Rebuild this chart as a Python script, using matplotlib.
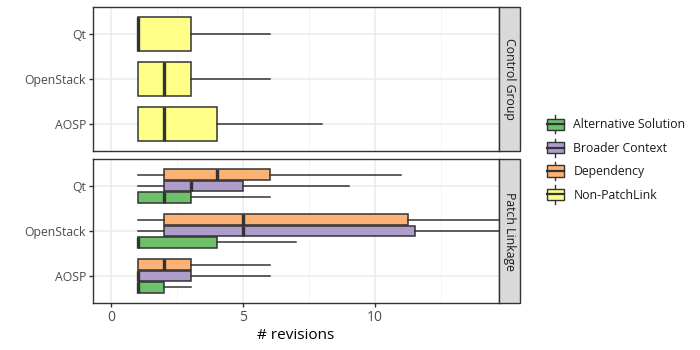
import matplotlib
matplotlib.use("Agg")
import matplotlib.pyplot as plt
from matplotlib.patches import Rectangle
from matplotlib.lines import Line2D
from matplotlib.legend_handler import HandlerBase

plt.rcParams['font.family'] = ['Open Sans', 'DejaVu Sans']

projects = ["AOSP", "OpenStack", "Qt"]
groups = ["Alternative Solution", "Broader Context", "Dependency", "Non-PatchLink"]
colors = {"Alternative Solution": "#6CC16A", "Broader Context": "#AE9CCB",
          "Dependency": "#FCB274", "Non-PatchLink": "#FFFF88"}

# Control Group (Non-PatchLink): per project AOSP, OpenStack, Qt
ctrl_whislo = [1, 1, 1]
ctrl_q1 = [1, 1, 1]
ctrl_med = [2, 2, 1]
ctrl_q3 = [4, 3, 3]
ctrl_whishi = [8, 6, 6]

# Patch Linkage: per group, per project (AOSP, OpenStack, Qt)
pl_whislo = {"Alternative Solution": [1, 1, 1], "Broader Context": [1, 1, 1], "Dependency": [1, 1, 1]}
pl_q1 = {"Alternative Solution": [1, 1, 1], "Broader Context": [1, 2, 2], "Dependency": [1, 2, 2]}
pl_med = {"Alternative Solution": [1, 1, 2], "Broader Context": [1, 5, 3], "Dependency": [2, 5, 4]}
pl_q3 = {"Alternative Solution": [2, 4, 3], "Broader Context": [3, 11.5, 5], "Dependency": [3, 11.25, 6]}
pl_whishi = {"Alternative Solution": [3, 7, 6], "Broader Context": [6, 22, 9], "Dependency": [6, 21, 11]}

edge = "#333333"
fig = plt.figure(figsize=(7, 3.5), dpi=100)
L, R = 93/700, 499/700
ax1 = fig.add_axes([L, 1-151/350, R-L, 144/350])
ax2 = fig.add_axes([L, 1-303/350, R-L, 144/350])

def draw(ax, stats, pos, width, color):
    ax.bxp(stats, positions=pos, widths=width, orientation='horizontal',
           showfliers=False, showcaps=False, patch_artist=True,
           boxprops=dict(facecolor=color, edgecolor=edge, linewidth=1.1),
           medianprops=dict(color=edge, linewidth=2.4, solid_capstyle='butt'),
           whiskerprops=dict(color=edge, linewidth=1.1), manage_ticks=False)

ypos = [1, 2, 3]
stats = [dict(whislo=ctrl_whislo[i], q1=ctrl_q1[i], med=ctrl_med[i], q3=ctrl_q3[i],
              whishi=ctrl_whishi[i]) for i in range(3)]
draw(ax1, stats, ypos, 0.75, colors["Non-PatchLink"])

offsets = {"Alternative Solution": -0.25, "Broader Context": 0.0, "Dependency": 0.25}
for g, off in offsets.items():
    st = [dict(whislo=pl_whislo[g][i], q1=pl_q1[g][i], med=pl_med[g][i], q3=pl_q3[g][i],
               whishi=pl_whishi[g][i]) for i in range(3)]
    draw(ax2, st, [p + off for p in ypos], 0.235, colors[g])

for ax, lab in [(ax1, "Control Group"), (ax2, "Patch Linkage")]:
    ax.set_xlim(-0.7, 14.7)
    ax.set_ylim(0.4, 3.6)
    ax.set_yticks(ypos)
    ax.set_yticklabels(projects)
    ax.set_xticks([0, 5, 10])
    ax.set_xticks([2.5, 7.5, 12.5], minor=True)
    ax.grid(True, which='major', color="#EBEBEB", linewidth=1.1, zorder=0)
    ax.grid(True, which='minor', axis='x', color="#F2F2F2", linewidth=0.6, zorder=0)
    ax.set_axisbelow(True)
    for s in ax.spines.values():
        s.set_color(edge)
        s.set_linewidth(1.0)
    ax.tick_params(axis='both', which='major', length=3, color=edge, labelsize=8.8,
                   labelcolor="#4D4D4D", width=1.0, pad=2)
    ax.tick_params(axis='x', which='minor', length=0)
    bb = ax.get_position()
    fig.patches.append(Rectangle((bb.x1, bb.y0), 21/700, bb.height, transform=fig.transFigure,
                                 facecolor="#D9D9D9", edgecolor=edge, linewidth=1.0))
    fig.text(bb.x1 + 10.5/700, bb.y0 + bb.height/2, lab, rotation=-90, ha='center',
             va='center', fontsize=8.8, color="#1A1A1A")

ax1.tick_params(axis='x', which='both', bottom=False, labelbottom=False)
ax2.tick_params(axis='x', labelsize=10)
ax2.set_xlabel("# revisions", fontsize=11, color="black", labelpad=2)

class BoxHandler(HandlerBase):
    def __init__(self, color):
        super().__init__()
        self.color = color
    def create_artists(self, legend, orig_handle, xdescent, ydescent, width, height, fontsize, trans):
        w = width
        x0 = xdescent
        h = height * 0.95
        y0 = -ydescent + (height - h) / 2
        cx = x0 + w / 2
        arts = [
            Line2D([cx, cx], [y0 - height*0.3, y0], color=edge, lw=1.0, transform=trans),
            Line2D([cx, cx], [y0 + h, y0 + h + height*0.3], color=edge, lw=1.0, transform=trans),
            Rectangle((x0, y0), w, h, facecolor=self.color, edgecolor=edge, lw=1.0, transform=trans),
            Line2D([x0, x0 + w], [y0 + h/2, y0 + h/2], color=edge, lw=1.6, transform=trans),
        ]
        return arts

handles = [Rectangle((0, 0), 1, 1) for g in groups]
hmap = {h: BoxHandler(colors[g]) for h, g in zip(handles, groups)}
fig.legend(handles, groups, handler_map=hmap, loc='center left',
           bbox_to_anchor=(547/700, 1-160/350), frameon=False, fontsize=8.8,
           handlelength=1.35, handleheight=1.1, handletextpad=0.8, labelspacing=0.85,
           labelcolor="#1A1A1A", borderaxespad=0, borderpad=0)

fig.savefig("out.png", dpi=100)
